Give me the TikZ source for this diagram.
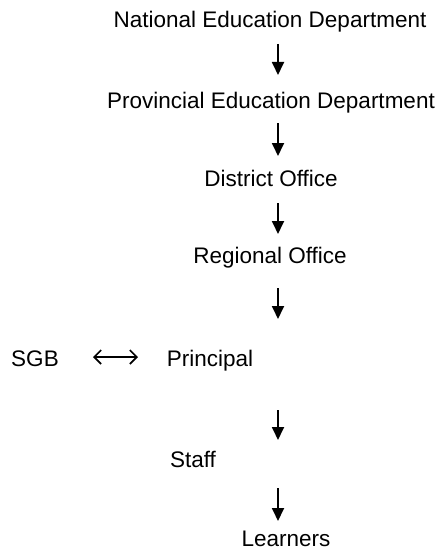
\documentclass[tikz,border=0pt]{standalone}
\usepackage{fontspec}
\setmainfont{Liberation Sans}
\usetikzlibrary{arrows.meta}
\begin{document}
\begin{tikzpicture}[x=1pt,y=1pt,
    nivel/.style={anchor=base,inner sep=0pt,font=\fontsize{22.5}{27}\selectfont},
    flecha/.style={line width=1.8pt,-{Triangle[length=13pt,width=12pt]}},
    dobleflecha/.style={line width=1.6pt,{Straight Barb[length=7pt,width=14pt]}-{Straight Barb[length=7pt,width=14pt]}}]
  \useasboundingbox (0,0) rectangle (440,-551);

  % Niveles
  \node[nivel] (nat) at (270,-28) {National Education Department};
  \node[nivel] (prov) at (271,-108) {Provincial Education Department};
  \node[nivel] (dist) at (271,-186) {District Office};
  \node[nivel] (reg) at (270,-263) {Regional Office};
  \node[nivel] (sgb) at (35,-366) {SGB};
  \node[nivel] (prin) at (210,-366) {Principal};
  \node[nivel] (staff) at (193,-467) {Staff};
  \node[nivel] (learn) at (286,-546) {Learners};

  % Flechas
  \coordinate (a1) at (278,-44);  \coordinate (b1) at (278,-75);
  \coordinate (a2) at (278,-123); \coordinate (b2) at (278,-156);
  \coordinate (a3) at (278,-203); \coordinate (b3) at (278,-234);
  \coordinate (a4) at (278,-288); \coordinate (b4) at (278,-319);
  \coordinate (a5) at (278,-410); \coordinate (b5) at (278,-440);
  \coordinate (a6) at (278,-488); \coordinate (b6) at (278,-521);
  \foreach \i in {1,...,6}
    \draw[flecha] (a\i) -- (b\i);

  \coordinate (c1) at (93,-357); \coordinate (c2) at (138,-357);
  \draw[dobleflecha] (c1) -- (c2);
\end{tikzpicture}
\end{document}
